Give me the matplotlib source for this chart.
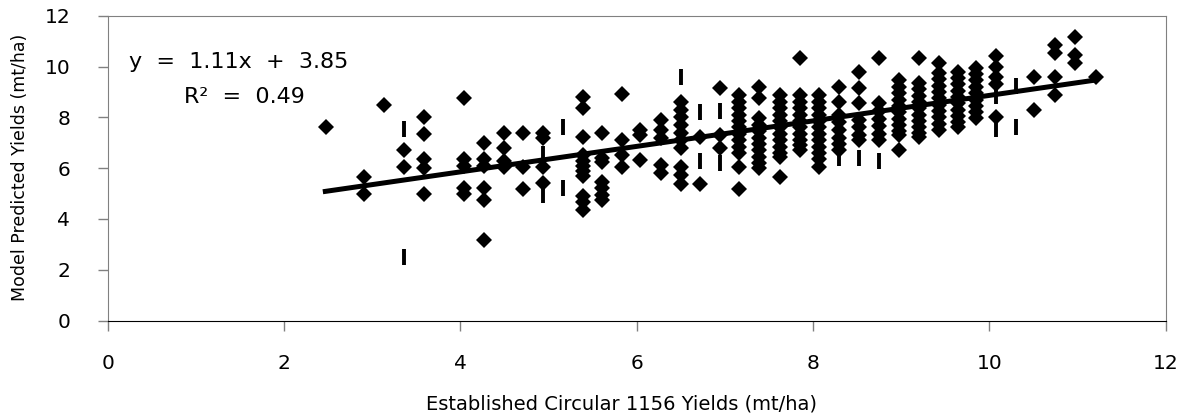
import matplotlib
matplotlib.use('Agg')
import matplotlib.pyplot as plt

# columns of points: established yield (x) -> model predicted yields (y), mt/ha
col_x = [2.47, 2.91, 3.13, 3.36, 3.59, 4.04, 4.27, 4.49, 4.71, 4.94,
         5.39, 5.61, 5.83, 6.04, 6.27, 6.50, 6.72, 6.94, 7.16, 7.39,
         7.62, 7.85, 8.07, 8.29, 8.52, 8.75, 8.97, 9.20, 9.43, 9.64,
         9.85, 10.07, 10.51, 10.75, 10.97, 11.21]
col_y = [
    [7.61],
    [5.67, 4.98],
    [8.50],
    [6.71, 6.06],
    [8.00, 7.34, 6.35, 6.00, 4.98],
    [8.75, 6.35, 6.10, 5.20, 4.98],
    [6.98, 6.35, 6.10, 5.21, 4.75, 3.17],
    [7.37, 6.78, 6.30, 6.06],
    [7.37, 6.06, 5.17],
    [7.37, 7.20, 6.06, 5.40],
    [8.81, 8.36, 7.21, 6.50, 6.30, 6.10, 5.90, 5.70, 4.90, 4.65, 4.35],
    [7.37, 6.40, 6.26, 5.47, 5.20, 4.95, 4.75],
    [8.92, 7.11, 6.52, 6.06],
    [7.50, 7.30, 6.32],
    [7.90, 7.50, 7.20, 6.12, 5.80],
    [8.62, 8.30, 8.00, 7.70, 7.40, 7.10, 6.80, 6.06, 5.73, 5.38],
    [7.24, 5.38],
    [9.17, 7.30, 6.78],
    [8.88, 8.60, 8.35, 8.10, 7.85, 7.60, 7.35, 7.10, 6.85, 6.60, 6.06, 5.17],
    [9.20, 8.75, 7.96, 7.70, 7.45, 7.20, 6.95, 6.70, 6.45, 6.20, 6.00],
    [8.88, 8.60, 8.35, 8.10, 7.85, 7.60, 7.35, 7.10, 6.85, 6.60, 6.45, 5.67],
    [10.32, 8.88, 8.60, 8.35, 8.10, 7.85, 7.60, 7.35, 7.10, 6.90, 6.71],
    [8.88, 8.60, 8.35, 8.10, 7.85, 7.60, 7.35, 7.10, 6.85, 6.60, 6.35, 6.06],
    [9.20, 8.62, 8.09, 7.80, 7.50, 7.20, 6.95, 6.71],
    [9.80, 9.14, 8.55, 7.90, 7.60, 7.30, 7.10],
    [10.32, 8.55, 8.25, 7.95, 7.65, 7.35, 7.11],
    [9.47, 9.20, 8.95, 8.70, 8.45, 8.20, 7.95, 7.70, 7.45, 7.30, 6.71],
    [10.32, 9.35, 9.10, 8.85, 8.60, 8.35, 8.10, 7.85, 7.60, 7.40, 7.24],
    [10.15, 9.74, 9.50, 9.25, 9.00, 8.75, 8.50, 8.25, 8.00, 7.75, 7.50],
    [9.80, 9.55, 9.30, 9.05, 8.80, 8.55, 8.30, 8.05, 7.80, 7.63],
    [9.94, 9.70, 9.45, 9.20, 8.95, 8.70, 8.45, 8.20, 7.97],
    [10.40, 10.00, 9.60, 9.30, 8.03],
    [9.57, 8.29],
    [10.85, 10.52, 9.57, 8.88],
    [11.17, 10.45, 10.12],
    [9.60],
]

# points drawn as short vertical bars in the original
dash_x = [3.36, 3.36, 4.94, 4.94, 5.16, 5.16, 6.50, 6.72, 6.72, 6.94, 6.94,
          8.29, 8.52, 8.75, 10.07, 10.07, 10.30, 10.30]
dash_y = [7.55, 2.52, 6.55, 4.95, 7.60, 5.20, 9.60, 8.20, 6.30, 8.25, 6.20,
          6.40, 6.40, 6.30, 8.85, 7.55, 9.25, 7.60]

# linear trend line end points
trend_x = [2.44, 11.21]
trend_y = [5.07, 9.47]

xs = [x for x, col in zip(col_x, col_y) for _ in col]
ys = [y for col in col_y for y in col]

plt.rcParams['font.family'] = ['DejaVu Sans']
fig = plt.figure(figsize=(11.88, 4.19), dpi=100)
ax = fig.add_axes([0.0907, 0.235, 0.8905, 0.7275])

ax.plot(xs, ys, linestyle='none', marker='D', markersize=8.5,
        color='black', markeredgewidth=0)
ax.plot(dash_x, dash_y, linestyle='none', marker='|', markersize=11,
        color='black', markeredgewidth=2.8)
ax.plot(trend_x, trend_y, color='black', linewidth=3.6, solid_capstyle='butt')

ax.set_xlim(0, 12)
ax.set_ylim(0, 12)
ax.set_xticks(range(0, 13, 2))
ax.set_yticks(range(0, 13, 2))
ax.tick_params(axis='both', labelsize=14.5, length=7, width=1, color='#808080')
ax.tick_params(axis='x', pad=17)
ax.tick_params(axis='y', pad=20)
for side in ['left', 'top', 'right']:
    ax.spines[side].set_color('#808080')
ax.spines['bottom'].set_color('black')

fig.text(0.523, 0.035, 'Established Circular 1156 Yields (mt/ha)',
         ha='center', va='center', fontsize=14)
fig.text(0.017, 0.60, 'Model Predicted Yields (mt/ha)',
         ha='center', va='center', rotation=90, fontsize=12.5)

fig.text(129 / 1188, 1 - 62 / 419, 'y  =  1.11x  +  3.85',
         ha='left', va='center', fontsize=16)
fig.text(184 / 1188, 1 - 97 / 419, 'R²  =  0.49',
         ha='left', va='center', fontsize=16)

fig.savefig('out.png', dpi=100)
